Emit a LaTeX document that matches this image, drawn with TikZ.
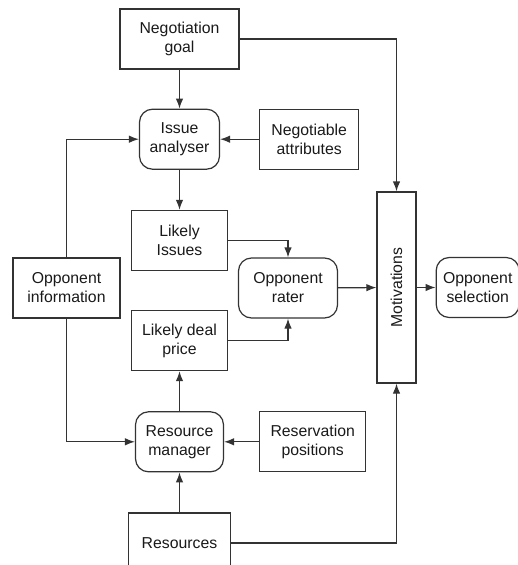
\documentclass[tikz,border=0pt]{standalone}
\usepackage{graphicx}
\usepackage{fontspec}
\setmainfont{Liberation Sans}
\usepackage{tikz}
\usetikzlibrary{shapes.misc, positioning}
\usetikzlibrary{arrows.meta}
\definecolor{ink}{gray}{0.2}
\def\txt{\fontsize{15.8}{19}\selectfont}
\tikzstyle{block} = [rectangle, minimum height=60pt, inner sep=2pt, text centered, align=center, draw=ink, line width=1.2pt, text=black!90, font=\txt]
\tikzstyle{proc} = [block, rounded corners=13pt]
\tikzstyle{aro} = [-{Latex[length=10pt,width=7.5pt]}, line width=1.2pt, draw=ink]

\begin{document}
\begin{tikzpicture}
  \clip (0,0) rectangle (518pt,-565pt);

  \node (goal) [block, minimum width=119pt] at (179.5pt,-39pt) {Negotiation\\goal};
  \node (issue) [proc, minimum width=80pt, below=39pt of goal] {Issue\\analyser};
  \node (attrib) [block, minimum width=99pt, right=39pt of issue] {Negotiable\\attributes};
  \node (likely) [block, minimum width=96pt, below=40pt of issue] {Likely\\Issues};
  \node (price) [block, minimum width=96pt, below=39pt of likely] {Likely deal\\price};
  \node (manager) [proc, minimum width=88pt, below=40pt of price] {Resource\\manager};
  \node (reserv) [block, minimum width=106pt, right=35pt of manager] {Reservation\\positions};
  \node (res) [block, minimum width=102pt, below=40pt of manager] {Resources};

  \node (oppinfo) [block, minimum width=107pt] at (66.5pt,-288pt) {Opponent\\information};
  \node (rater) [proc, minimum width=99pt] at (288pt,-288pt) {Opponent\\rater};
  \node (motiv) [block, minimum width=39pt, minimum height=191pt] at (396.5pt,-287.5pt) {\rotatebox{90}{Motivations}};
  \node (select) [proc, minimum width=83pt, right=19pt of motiv] {Opponent\\selection};

  \draw [aro] (goal) -- (issue);
  \draw [aro] (attrib) -- (issue);
  \draw [aro] (issue) -- (likely);
  \draw [aro] (manager) -- (price);
  \draw [aro] (reserv) -- (manager);
  \draw [aro] (res) -- (manager);

  \draw [aro] (goal.east) -| (motiv.north);
  \draw [aro] (oppinfo.north) |- (issue.west);
  \draw [aro] (oppinfo.south) |- (manager.west);
  \draw [aro] (likely.east) -| (rater.north);
  \draw [aro] (price.east) -| (rater.south);
  \draw [aro] (rater) -- (motiv);
  \draw [aro] (motiv) -- (select);
  \draw [aro] (res.east) -| (motiv.south);

\end{tikzpicture}
\end{document}
